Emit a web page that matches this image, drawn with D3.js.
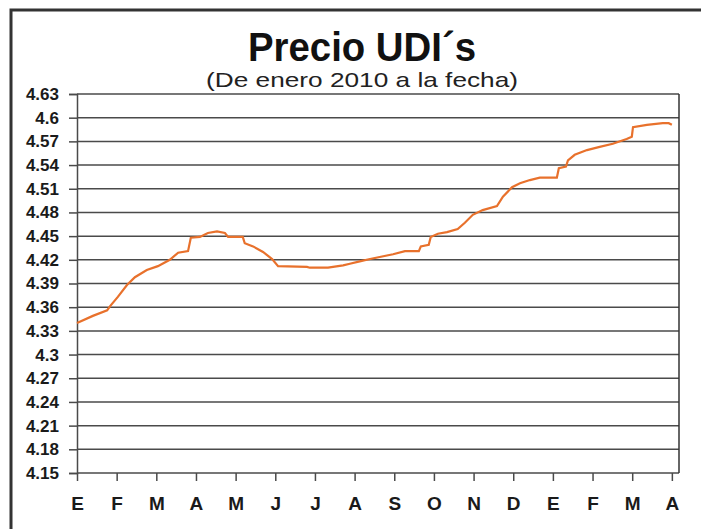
<!DOCTYPE html>
<meta charset="utf-8">
<title>Precio UDI's</title>
<style>
body {
  margin: 0px;
  background: #fff;
}
svg {
  display: block;
  font-family: "Liberation Sans", Arial, sans-serif;
}
</style>
<body>
<script src="https://cdn.jsdelivr.net/npm/d3@7"></script>
<script>

// month labels, jan 2010 .. apr 2011
var months = ["E", "F", "M", "A", "M", "J", "J", "A", "S", "O", "N", "D", "E", "F", "M", "A"];
var yTicks = [4.15, 4.18, 4.21, 4.24, 4.27, 4.3, 4.33, 4.36, 4.39, 4.42, 4.45, 4.48, 4.51, 4.54, 4.57, 4.6, 4.63];

// position in months since jan 1 2010
var pos = [0, 0.40, 0.76, 0.83, 1.03, 1.26, 1.46, 1.76, 2.04, 2.34, 2.55, 2.80, 2.87, 3.10, 3.30, 3.53,
  3.73, 3.81, 4.18, 4.23, 4.44, 4.69, 4.92, 5.07, 5.80, 5.87, 6.33, 6.71, 6.88, 7.13, 7.39, 7.97,
  8.27, 8.62, 8.67, 8.87, 8.92, 9.10, 9.33, 9.60, 9.78, 9.98, 10.23, 10.59, 10.74, 10.97, 11.17,
  11.42, 11.67, 12.10, 12.15, 12.33, 12.38, 12.55, 12.86, 13.18, 13.51, 13.86, 13.99, 14.02,
  14.37, 14.77, 14.92, 15.00];
var udi = [4.340, 4.349, 4.356, 4.361, 4.373, 4.388, 4.398, 4.407, 4.412, 4.420, 4.429, 4.431, 4.448,
  4.449, 4.454, 4.456, 4.454, 4.449, 4.449, 4.441, 4.437, 4.430, 4.421, 4.412, 4.411, 4.410, 4.410,
  4.413, 4.415, 4.418, 4.421, 4.427, 4.431, 4.431, 4.437, 4.439, 4.449, 4.453, 4.455, 4.459, 4.467,
  4.477, 4.483, 4.488, 4.500, 4.512, 4.517, 4.521, 4.524, 4.524, 4.536, 4.538, 4.546, 4.553, 4.559,
  4.563, 4.567, 4.573, 4.576, 4.588, 4.591, 4.593, 4.593, 4.591];

var width = 701, height = 529;
var margin = {top: 94, right: 22, bottom: 56, left: 77};

var svg = d3.select("body").append("svg")
    .attr("width", width)
    .attr("height", height);

// outer frame
svg.append("rect")
    .attr("x", 11).attr("y", 10)
    .attr("width", 700).attr("height", 540)
    .attr("fill", "#fff")
    .attr("stroke", "#333")
    .attr("stroke-width", 3);

var x = d3.scaleLinear()
    .domain([0, 15.18])
    .range([margin.left, width - margin.right]);
var y = d3.scaleLinear()
    .domain([4.15, 4.63])
    .range([height - margin.bottom, margin.top]);

// gridlines
svg.append("g")
  .selectAll("line")
  .data(yTicks)
  .enter().append("line")
    .attr("x1", x(0)).attr("x2", x(15.18))
    .attr("y1", function(d) { return y(d); })
    .attr("y2", function(d) { return y(d); })
    .attr("stroke", "#4a4a4a")
    .attr("stroke-width", 1.5);

// right border
svg.append("line")
    .attr("x1", x(15.18)).attr("x2", x(15.18))
    .attr("y1", y(4.63)).attr("y2", y(4.15))
    .attr("stroke", "#333")
    .attr("stroke-width", 1.5);

var yAxis = svg.append("g")
    .attr("transform", "translate(" + margin.left + ",0)")
    .call(d3.axisLeft(y).tickValues(yTicks).tickSize(8).tickPadding(10).tickFormat(d3.format("")));
yAxis.select(".domain").attr("stroke", "#4a4a4a").attr("stroke-width", 1.5);
yAxis.selectAll(".tick line").attr("stroke", "#4a4a4a").attr("stroke-width", 1.5);
yAxis.selectAll("text")
    .attr("fill", "#1a1a1a")
    .style("font-size", "17px")
    .style("font-weight", "bold");

var xAxis = svg.append("g")
    .attr("transform", "translate(0," + (height - margin.bottom) + ")")
    .call(d3.axisBottom(x).tickValues(d3.range(16)).tickSize(8).tickPadding(16)
      .tickFormat(function(d) { return months[d]; }));
xAxis.select(".domain").remove();
xAxis.selectAll(".tick line").attr("stroke", "#4a4a4a").attr("stroke-width", 1.5);
xAxis.selectAll("text")
    .attr("fill", "#1a1a1a")
    .style("font-size", "19px")
    .style("font-weight", "bold");

var line = d3.line()
    .x(function(d, i) { return x(pos[i]); })
    .y(function(d) { return y(d); });

svg.append("path")
    .datum(udi)
    .attr("d", line)
    .attr("fill", "none")
    .attr("stroke", "#e8712c")
    .attr("stroke-width", 2.2);

// titles
svg.append("text")
    .attr("x", 362).attr("y", 61)
    .attr("text-anchor", "middle")
    .attr("textLength", 228)
    .attr("lengthAdjust", "spacingAndGlyphs")
    .style("font-size", "40px")
    .style("font-weight", "bold")
    .attr("fill", "#111")
    .text("Precio UDI´s");

svg.append("text")
    .attr("x", 362).attr("y", 87)
    .attr("text-anchor", "middle")
    .attr("textLength", 312)
    .attr("lengthAdjust", "spacingAndGlyphs")
    .style("font-size", "21px")
    .attr("fill", "#222")
    .text("(De enero 2010 a la fecha)");

</script>
</body>
